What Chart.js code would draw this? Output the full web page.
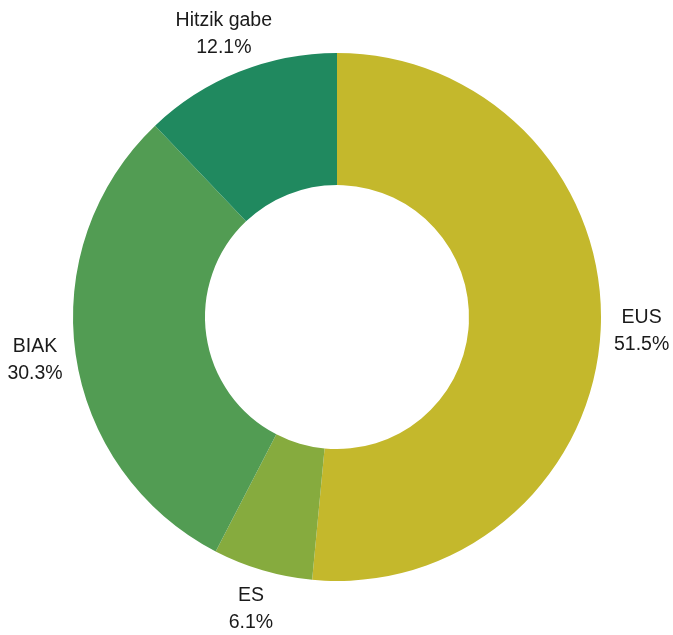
<!DOCTYPE html>
<html>
<head>
<meta charset="utf-8">
<script src="https://cdn.jsdelivr.net/npm/chart.js@4"></script>
<style>
    html, body { margin: 0; padding: 0; background: #ffffff; }
    #wrap { width: 673px; height: 635px; position: relative; }
</style>
</head>
<body>
<div id="wrap"><canvas id="donut"></canvas></div>
<script>
// Data
const categories = ['EUS', 'ES', 'BIAK', 'Hitzik gabe'];
const shares = [51.5, 6.1, 30.3, 12.1];
const sliceColors = ['#c4b82c', '#86ab3e', '#529c53', '#20895f'];

// Draw "name / percent" labels outside each slice
const outsideLabels = {
    id: 'outsideLabels',
    afterDatasetsDraw(chart) {
        const ctx = chart.ctx;
        const meta = chart.getDatasetMeta(0);
        ctx.save();
        ctx.font = '19.5px "Liberation Sans", Arial, sans-serif';
        ctx.fillStyle = '#1a1a1a';
        ctx.textAlign = 'center';
        ctx.textBaseline = 'middle';
        meta.data.forEach(function(arc, i) {
            const mid = (arc.startAngle + arc.endAngle) / 2;
            const r = arc.outerRadius + 41;
            const x = arc.x + Math.cos(mid) * r;
            const y = arc.y + Math.sin(mid) * r;
            ctx.fillText(categories[i], x, y - 13.5);
            ctx.fillText(shares[i].toFixed(1) + '%', x, y + 13.5);
        });
        ctx.restore();
    }
};

new Chart(document.getElementById('donut').getContext('2d'), {
    type: 'doughnut',
    data: {
        labels: categories,
        datasets: [{
            data: shares,
            backgroundColor: sliceColors,
            borderWidth: 0
        }]
    },
    options: {
        responsive: true,
        maintainAspectRatio: false,
        animation: false,
        cutout: '50%',
        layout: {
            padding: { left: 73, right: 72, top: 53, bottom: 54 }
        },
        plugins: {
            legend: { display: false },
            tooltip: { enabled: false }
        }
    },
    plugins: [outsideLabels]
});
</script>
</body>
</html>
